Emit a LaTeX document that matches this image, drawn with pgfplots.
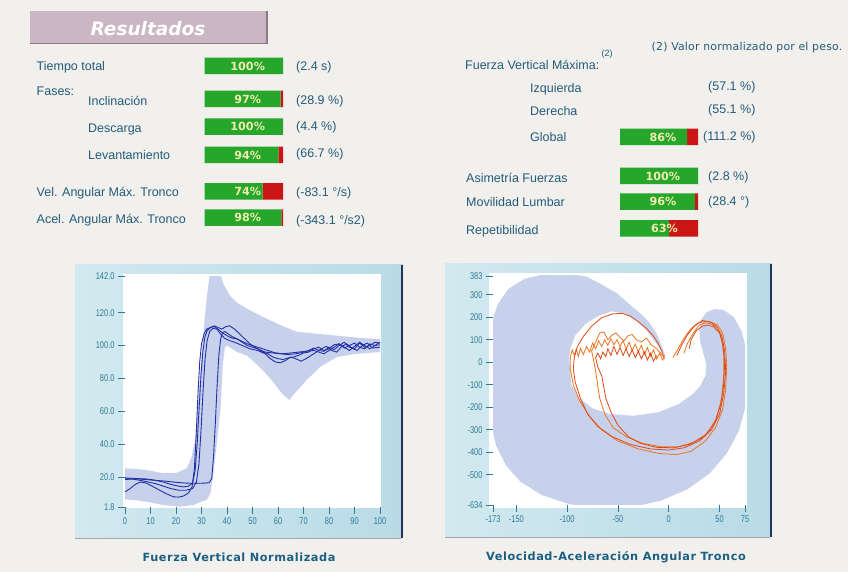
\documentclass[border=0pt]{standalone}
\usepackage{fontspec}
\usepackage{pgfplots}
\pgfplotsset{compat=1.18}
\setmainfont{Liberation Sans}
\newfontfamily\dvs{DejaVu Sans}
\newfontfamily\titlefont[LetterSpace=5]{DejaVu Sans}
\newfontfamily\notefont[LetterSpace=2]{DejaVu Sans}
\newfontfamily\tickfont[FakeStretch=0.76]{Liberation Sans}
\definecolor{bg}{RGB}{241,240,236}
\definecolor{txt}{RGB}{36,92,122}
\definecolor{gbar}{RGB}{38,166,42}
\definecolor{rbar}{RGB}{204,22,22}
\definecolor{pct}{RGB}{240,236,176}
\definecolor{panelL}{RGB}{210,233,239}
\definecolor{panelR}{RGB}{184,219,230}
\definecolor{edge}{RGB}{40,52,85}
\definecolor{band}{RGB}{199,209,236}
\definecolor{fblue}{RGB}{34,48,165}
\definecolor{orng}{RGB}{236,115,30}
\definecolor{orred}{RGB}{222,72,22}
\definecolor{tickc}{RGB}{48,122,150}
\definecolor{titlec}{RGB}{28,95,130}
\definecolor{hdr}{RGB}{203,183,196}
\definecolor{hdrdark}{RGB}{140,120,135}
\tikzset{lab/.style={inner sep=0pt, anchor=base west, text=txt, font=\fontsize{12.5}{14}\selectfont},
  pcts/.style={inner sep=0pt, text=pct, font=\dvs\bfseries\fontsize{11.2}{12}\selectfont}}
\pgfplotsset{barax/.style={scale only axis, hide axis, xbar stacked, bar width=16.5pt,
  xmin=0, xmax=100, ymin=50, ymax=240, y dir=reverse, enlargelimits=false, clip=false},
  chartax/.style={scale only axis, enlargelimits=false, axis line style={draw=none},
  xtick pos=bottom, ytick pos=left, tick align=outside, major tick length=7pt,
  tick style={draw=tickc, line width=0.7pt},
  ticklabel style={font=\tickfont\fontsize{9.8}{10}\selectfont, text=tickc}}}
\begin{document}
\begin{tikzpicture}[x=1pt,y=1pt]
\useasboundingbox (0,0) rectangle (848,572);
\fill[bg] (0,0) rectangle (848,572);
% header
\fill[hdr] (30,572-43.5) rectangle (267,572-11.5);
\draw[hdrdark, line width=1.2pt] (30,572-43.5) -- (267,572-43.5) -- (267,572-11.5);
\node[text=white, inner sep=0pt, font=\dvs\bfseries\itshape\fontsize{18.5}{20}\selectfont] at (148,572-28.5) {Resultados};
% left labels
\node[lab] at (36.5,572-71) {Tiempo total};
\node[lab] at (36.5,572-95.5) {Fases:};
\node[lab] at (88,572-105.3) {Inclinación};
\node[lab] at (88,572-132.6) {Descarga};
\node[lab] at (88,572-160) {Levantamiento};
\node[lab] at (36.5,572-197) {Vel. Angular Máx. Tronco};
\node[lab] at (36.5,572-223.6) {Acel. Angular Máx. Tronco};
\node[lab] at (296,572-71) {(2.4 s)};
\node[lab] at (296,572-104.3) {(28.9 \%)};
\node[lab] at (296,572-131) {(4.4 \%)};
\node[lab] at (296,572-157.6) {(66.7 \%)};
\node[lab] at (296,572-197) {(-83.1 °/s)};
\node[lab] at (296,572-224.3) {(-343.1 °/s2)};
% right labels
\node[inner sep=0pt, anchor=base west, text=txt, font=\notefont\fontsize{10.9}{12}\selectfont] at (651.5,572-50.5) {(2) Valor normalizado por el peso.};
\node[lab] at (465,572-69.3) {Fuerza Vertical Máxima:};
\node[inner sep=0pt, anchor=base west, text=txt, font=\fontsize{9}{10}\selectfont] at (601.5,572-56.5) {(2)};
\node[lab] at (530,572-92.6) {Izquierda};
\node[lab] at (530,572-116) {Derecha};
\node[lab] at (530,572-141.6) {Global};
\node[lab] at (466,572-182.6) {Asimetría Fuerzas};
\node[lab] at (466,572-207) {Movilidad Lumbar};
\node[lab] at (466,572-234.3) {Repetibilidad};
\node[lab] at (708,572-90.3) {(57.1 \%)};
\node[lab] at (708,572-113.3) {(55.1 \%)};
\node[lab] at (703,572-140.3) {(111.2 \%)};
\node[lab] at (708,572-180.3) {(2.8 \%)};
\node[lab] at (708,572-206) {(28.4 °)};
% panels
\shade[left color=panelL, right color=panelR] (75,34) rectangle (403,307);
\draw[edge, line width=2.2pt] (402,34) -- (402,307);
\draw[black!35, line width=0.6pt] (75,34) -- (401,34);
\fill[white] (123,64) rectangle (381,298);
\shade[left color=panelL, right color=panelR] (445,35) rectangle (772,308);
\draw[edge, line width=2.2pt] (771,35) -- (771,308);
\draw[black!35, line width=0.6pt] (445,35) -- (770,35);
\fill[white] (489,64) rectangle (747,299);
\node[text=titlec, inner sep=0pt, font=\titlefont\bfseries\fontsize{11.3}{12}\selectfont] at (239,15) {Fuerza Vertical Normalizada};
\node[text=titlec, inner sep=0pt, font=\titlefont\bfseries\fontsize{11.3}{12}\selectfont] at (616,15) {Velocidad-Aceleración Angular Tronco};
% left bars
\begin{axis}[barax, at={(204.5pt,522pt)}, anchor=north west, width=78.5pt, height=190pt]
\addplot[fill=gbar, draw=none] coordinates {(100,66) (97,99) (100,126.7) (94,155) (74,191.3) (98,217.7)};
\addplot[fill=rbar, draw=none] coordinates {(0,66) (3,99) (0,126.7) (6,155) (26,191.3) (2,217.7)};
\end{axis}
% right bars
\begin{axis}[barax, at={(620pt,522pt)}, anchor=north west, width=78pt, height=190pt]
\addplot[fill=gbar, draw=none] coordinates {(86,137) (100,176) (96,201.7) (63,228.3)};
\addplot[fill=rbar, draw=none] coordinates {(14,137) (0,176) (4,201.7) (37,228.3)};
\end{axis}
% bar labels
\node[pcts] at (247.7,572-66) {100\%};
\node[pcts] at (247.7,572-99) {97\%};
\node[pcts] at (247.7,572-126.7) {100\%};
\node[pcts] at (247.7,572-155) {94\%};
\node[pcts] at (247.7,572-191.3) {74\%};
\node[pcts] at (247.7,572-217.7) {98\%};
\node[pcts] at (662.9,572-137) {86\%};
\node[pcts] at (662.9,572-176) {100\%};
\node[pcts] at (662.9,572-201.7) {96\%};
\node[pcts] at (664.5,572-228.3) {63\%};
% left chart
\begin{axis}[chartax, at={(125pt,65pt)}, anchor=south west, width=255pt, height=230.5pt,
  xmin=0, xmax=100, ymin=1.8, ymax=142,
  xtick={0,10,20,30,40,50,60,70,80,90,100}, xticklabels={0,10,20,30,40,50,60,70,80,90,100},
  ytick={1.8,20,40,60,80,100,120,142}, yticklabels={1.8,20.0,40.0,60.0,80.0,100.0,120.0,142.0}]
\addplot[fill=band, draw=none] coordinates {(0,25.3) (4,25) (8.5,24.3) (15,22.3) (20.3,22.6) (24.2,25.3) (26.1,32.3) (27.5,42.5) (28.8,66.8) (30.2,97.3) (31.2,115) (32,128) (32.8,138) (33.5,146) (37,146) (38.5,137.8) (41,130.7) (44,126) (47.7,122.5) (54,117.5) (60.8,112.5) (67.3,108.4) (73.9,107.4) (80.4,106.4) (87,105.4) (93,104.5) (100,104)
 (100,96) (95,95.5) (90.8,95) (83,93) (76.5,87) (71.2,79) (66,70) (64.5,67) (62,70) (58,78) (54,85) (50,91) (47.7,94) (44,96) (40,100) (39.2,99) (38.3,88) (37.5,62) (36,40) (34.5,20) (33.5,10) (32,6) (30.7,5.5) (26.7,3) (21.6,2) (15,3) (8.5,5) (4,6) (0,6.5)} -- cycle;
\addplot[fblue, line width=0.9pt] coordinates {(0,11) (2,13) (4,15.5) (6,17) (8,16.5) (10,15) (13,12.5) (16,10) (19,8) (21,7.8) (23,8.5) (25,10.5) (26.3,14) (27.2,25) (27.9,45) (28.6,70) (29.3,90) (30,101) (31,107) (32,110) (33.5,111) (35,111.5) (36.5,110) (38,108) (40,106) (42,104.5) (44,104) (46,102) (48,100) (50,99) (52,98) (54,96) (56,95) (58,93) (60,92) (62,91.5) (64,92.5) (66,93) (68,94) (70,95.5) (72,96) (74,98) (76,99) (78,97) (80,98) (82,100.5) (84,101) (86,98.5) (88,100) (90,101.5) (92,99) (94,98) (96,101) (98,100) (100,100.5)};
\addplot[fblue, line width=0.9pt] coordinates {(0,19.5) (3,19.2) (6,19) (9,18.8) (12,18) (15,17) (18,15.5) (21,14.5) (23,14) (25,14.5) (26.5,16.5) (27.5,24) (28.3,40) (29,60) (29.8,82) (30.5,96) (31.3,105) (32.2,109) (33.5,111) (35,112) (36.5,111) (38,110) (39.5,111.5) (41,112) (43,110) (45,107) (47,104) (49,101) (52,98) (55,96) (58,95.5) (61,95) (64,94.5) (67,95) (70,96) (72,97) (74,98.5) (76,97) (78,96.5) (80,99) (82,97.5) (84,100) (86,102) (88,99) (90,98) (92,101.5) (94,99) (96,100) (98,102) (100,101.5)};
\addplot[fblue, line width=0.9pt] coordinates {(0,19) (3,18.8) (6,18) (9,17) (12,16) (15,14.5) (18,13) (21,12) (24,12) (26.5,13) (28,17) (29,28) (29.8,48) (30.6,72) (31.4,92) (32.2,103) (33.2,108.5) (34.5,110.5) (36,110) (37.5,107) (39,104.5) (41,103) (43,102) (46,100) (49,98) (52,97) (55,95) (57,92) (59,90) (61,89.5) (63,91) (65,93) (67,92) (69,90.5) (71,92) (73,94) (75,96) (77,98) (79,99.5) (81,97) (83,96) (85,99.5) (87,101) (89,98.5) (91,97) (93,100) (95,101.5) (97,98.5) (100,99)};
\addplot[fblue, line width=0.9pt] coordinates {(0,18.5) (4,19) (8,18.5) (12,18) (16,17.5) (20,16.8) (24,16.3) (28,16.2) (31,16.3) (33,16.6) (34,19) (34.7,32) (35.4,52) (36.1,75) (36.8,94) (37.5,104) (38.3,108) (39.2,108.5) (40.5,107) (42,105.5) (44,104) (46,102.5) (48,101) (50,100) (53,98.5) (56,97) (59,95.5) (62,95) (65,95.5) (68,96) (71,96.5) (74,97) (76,96) (78,95) (80,97) (82,99) (84,101) (86,99) (88,97) (90,99.5) (92,102) (94,100) (96,98) (98,100) (100,102)};
\end{axis}
% right chart
\begin{axis}[chartax, at={(493pt,67pt)}, anchor=south west, width=252pt, height=229pt,
  xmin=-173, xmax=75, ymin=-634, ymax=383,
  xtick={-173,-150,-100,-50,0,50,75}, xticklabels={-173,-150,-100,-50,0,50,75},
  ytick={-634,-500,-400,-300,-200,-100,0,100,200,300,383},
  yticklabels={-634,-500,-400,-300,-200,-100,0,100,200,300,383}]
\addplot[fill=band, draw=none] coordinates {(-3,25) (-6,60) (-12,128) (-20,180) (-28,217) (-40,262) (-51,306) (-68,350) (-81,380) (-100,393) (-122,392) (-142,370) (-158,325) (-168,260) (-175,170) (-178,50) (-178,-100) (-176,-250) (-170,-370) (-160,-460) (-146,-530) (-125,-590) (-98,-630) (-68,-650) (-38,-645) (-8,-615) (18,-565) (40,-495) (57,-405) (69,-305) (76,-190) (78,-70) (77,40) (72,135) (64,200) (54,232) (45,236) (37,222) (32,190) (30,140) (31,90) (34,40) (37,-10) (36,-60) (31,-105) (24,-140) (10,-185) (-10,-222) (-35,-238) (-58,-230) (-75,-205) (-88,-160) (-96,-100) (-97,-40) (-98,20) (-97,60) (-92,120) (-82,170) (-70,205) (-56,226) (-43,216) (-32,186) (-22,142) (-14,95) (-8,52)} -- cycle;
\addplot[orng, line width=0.8pt] coordinates {(4,20) (8,50) (14,100) (22,150) (30,175) (36,182) (42,178) (48,165) (53,130) (56,60) (57,-20) (56,-120) (53,-210) (46,-290) (36,-350) (22,-395) (8,-410) (-10,-405) (-30,-385) (-50,-350) (-66,-300) (-78,-240) (-88,-170) (-94,-100) (-97,-30) (-97,20) (-95,55) (-93,30) (-91,58) (-89,25) (-87,62) (-84,35) (-81,70) (-78,45) (-75,85) (-72,60) (-69,95) (-66,70) (-63,100) (-60,75) (-57,105) (-54,78) (-51,100) (-48,70) (-45,95) (-42,60) (-39,88) (-36,52) (-33,80) (-30,45) (-27,75) (-24,35) (-21,65) (-18,25) (-15,55) (-12,15) (-9,40) (-6,10) (-4,30)};
\addplot[orred, line width=0.8pt] coordinates {(8,30) (12,70) (18,120) (26,165) (33,185) (40,180) (47,160) (52,120) (55,50) (56,-40) (54,-140) (50,-230) (42,-300) (30,-350) (15,-380) (0,-390) (-18,-385) (-38,-365) (-56,-330) (-70,-285) (-80,-230) (-87,-160) (-92,-90) (-94,-30) (-93,20) (-90,70) (-84,115) (-76,160) (-66,198) (-55,215) (-46,217) (-38,205) (-30,180) (-22,150) (-15,115) (-10,80) (-7,50) (-5,25)};
\addplot[orng, line width=0.8pt] coordinates {(15,40) (18,80) (24,130) (30,165) (36,175) (42,170) (48,150) (52,110) (54,40) (54,-60) (52,-160) (47,-250) (38,-315) (25,-355) (10,-375) (-8,-375) (-26,-360) (-42,-330) (-55,-290) (-63,-230) (-68,-160) (-70,-100) (-72,-40) (-74,10) (-76,50) (-72,90) (-68,130) (-64,135) (-60,100) (-56,120) (-52,130) (-48,110) (-44,95) (-40,118) (-36,123) (-32,100) (-27,90) (-22,108) (-18,80) (-12,60) (-7,35) (-4,15)};
\addplot[orred, line width=0.8pt] coordinates {(20,60) (22,100) (27,140) (33,160) (38,165) (44,158) (50,130) (53,80) (55,0) (54,-100) (51,-190) (45,-270) (35,-330) (20,-365) (5,-380) (-12,-378) (-28,-360) (-40,-330) (-50,-280) (-57,-220) (-62,-160) (-64,-110) (-66,-60) (-70,-20) (-72,20) (-70,40) (-67,15) (-65,45) (-62,25) (-60,60) (-57,30) (-54,70) (-51,35) (-48,65) (-45,30) (-42,60) (-39,25) (-36,55) (-33,20) (-30,50) (-27,15) (-24,45) (-21,10) (-18,40) (-15,5) (-12,30)};
\end{axis}
\end{tikzpicture}
\end{document}
